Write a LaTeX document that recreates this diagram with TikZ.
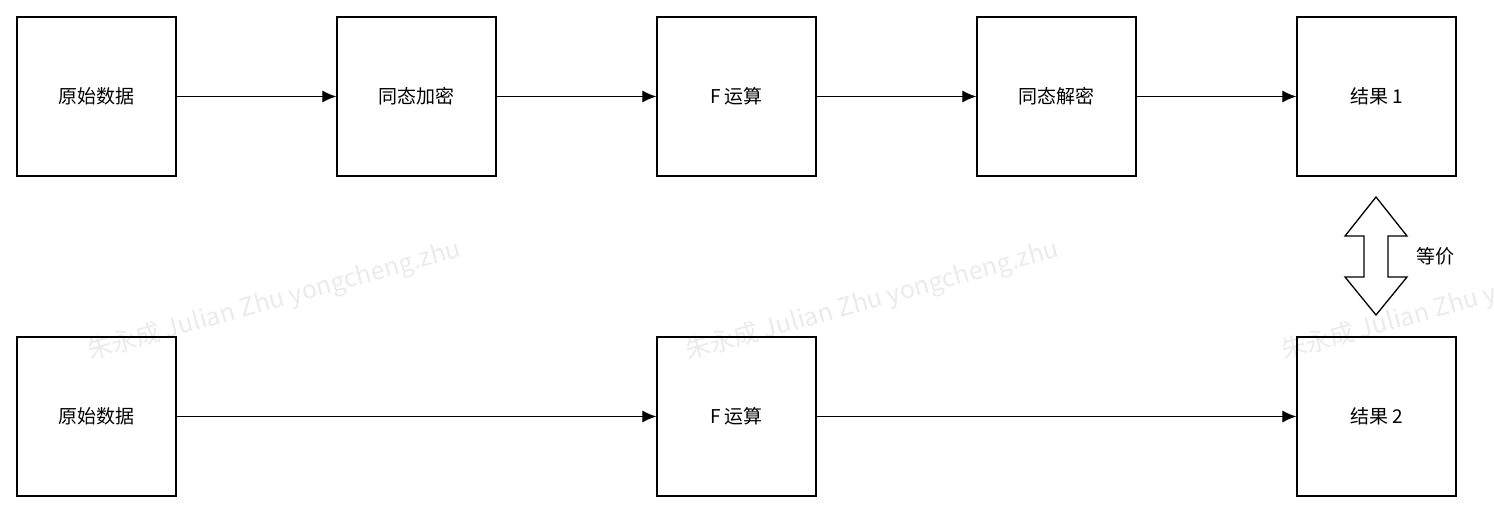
\documentclass[tikz,border=0pt]{standalone}
\usepackage{fontspec}
\setmainfont{Noto Sans CJK SC}
\usetikzlibrary{arrows.meta}
\begin{document}
\begin{tikzpicture}[x=1pt,y=-1pt,
  box/.style={draw,line width=1.3pt,minimum width=159pt,minimum height=159pt,inner sep=0pt,font=\fontsize{19}{22}\selectfont},
  arr/.style={-{Latex[length=14pt,width=12pt]},line width=1.1pt},
  wm/.style={text=black!8,rotate=15.5,anchor=base west,inner sep=0pt,font=\fontsize{25}{28}\selectfont}]
\useasboundingbox (0,0) rectangle (1494,514);
\begin{scope}
\clip (0,0) rectangle (1494,514);
\node[wm] (w1) at (90,360) {朱永成 Julian Zhu yongcheng.zhu};
\node[wm] (w2) at (688,360) {朱永成 Julian Zhu yongcheng.zhu};
\node[wm] (w3) at (1284,360) {朱永成 Julian Zhu yongcheng.zhu};
\end{scope}
\node[box] (a) at (96.5,96.5) {原始数据};
\node[box] (b) at (416.5,96.5) {同态加密};
\node[box] (c) at (736.5,96.5) {F 运算};
\node[box] (d) at (1056.5,96.5) {同态解密};
\node[box] (e) at (1376.5,96.5) {结果 1};
\node[box] (f) at (96.5,416.5) {原始数据};
\node[box] (g) at (736.5,416.5) {F 运算};
\node[box] (h) at (1376.5,416.5) {结果 2};
\draw[arr] (a) -- (b);
\draw[arr] (b) -- (c);
\draw[arr] (c) -- (d);
\draw[arr] (d) -- (e);
\draw[arr] (f) -- (g);
\draw[arr] (g) -- (h);
\draw[line width=1.3pt,line join=miter] (1376,197) -- (1407,236) -- (1388,236) -- (1388,277) -- (1407,277) -- (1376,315) -- (1345,277) -- (1364,277) -- (1364,236) -- (1345,236) -- cycle;
\node[font=\fontsize{19}{22}\selectfont] (t) at (1435,256) {等价};
\end{tikzpicture}
\end{document}
